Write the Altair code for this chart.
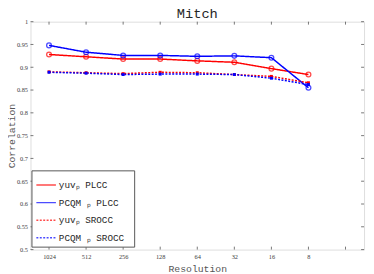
import altair as alt
import pandas as pd

resolutions = ["1024", "512", "256", "128", "64", "32", "16", "8"]
yuv_plcc = [0.928, 0.923, 0.918, 0.918, 0.914, 0.911, 0.897, 0.884]
pcqm_plcc = [0.948, 0.933, 0.926, 0.926, 0.924, 0.925, 0.921, 0.855]
yuv_srocc = [0.890, 0.888, 0.886, 0.889, 0.888, 0.884, 0.880, 0.866]
pcqm_srocc = [0.889, 0.887, 0.884, 0.885, 0.885, 0.884, 0.876, 0.862]

series_names = ["yuvₚ  PLCC", "PCQM ₚ  PLCC", "yuvₚ  SROCC", "PCQM ₚ  SROCC"]
series_values = [yuv_plcc, pcqm_plcc, yuv_srocc, pcqm_srocc]
series_kind = ["PLCC", "PLCC", "SROCC", "SROCC"]
colors = ["#ff0000", "#0000ff", "#ff0000", "#0000ff"]
dashes = [[1, 0], [1, 0], [2, 1.5], [2, 1.5]]

x_ticks = [1, 2, 3, 4, 5, 6, 7, 8, 9]
y_ticks = [0.5, 0.55, 0.6, 0.65, 0.7, 0.75, 0.8, 0.85, 0.9, 0.95, 1.0]

rows = []
for s, (name, vals, kind) in enumerate(zip(series_names, series_values, series_kind)):
    for i, v in enumerate(vals):
        rows.append({"pos": i + 1, "res": resolutions[i], "series": name,
                     "kind": kind, "value": v, "order": s})
df = pd.DataFrame(rows)
xt = pd.DataFrame({"pos": x_ticks})
yt = pd.DataFrame({"value": y_ticks})

label_js = "[" + ",".join("'" + r + "'" for r in resolutions) + "][datum.value-1] || ''"

xscale = alt.Scale(domain=[0.5, 9.5], nice=False, zero=False)
yscale = alt.Scale(domain=[0.5, 1.0], nice=False, zero=False)

xaxis = alt.Axis(values=x_ticks, labelExpr=label_js, ticks=False, domain=False, grid=False,
                 title="Resolution", titleFont="Liberation Mono", titleFontSize=10,
                 titleFontWeight="normal", titleColor="#555555", titlePadding=4,
                 labelFont="Liberation Serif", labelFontSize=6.5, labelColor="#404040",
                 labelPadding=4)
yaxis = alt.Axis(values=y_ticks, format=".2~f", ticks=False, domain=False, grid=False,
                 title="Correlation", titleFont="Liberation Mono", titleFontSize=10,
                 titleFontWeight="normal", titleColor="#555555", titlePadding=0,
                 labelFont="Liberation Serif", labelFontSize=6.5, labelColor="#404040",
                 labelPadding=3)

legend = alt.Legend(title=None, orient="none", legendX=1, legendY=152,
                    symbolType="stroke", symbolSize=400, symbolStrokeWidth=1.5,
                    labelFont="Liberation Mono", labelFontSize=9.5, labelColor="#262626",
                    labelOffset=2, rowPadding=2, padding=4,
                    fillColor="white", strokeColor="#555555")

color_scale = alt.Scale(domain=series_names, range=colors)
dash_scale = alt.Scale(domain=series_names, range=dashes)

base = alt.Chart(df)
lines = base.mark_line(strokeWidth=1.5).encode(
    x=alt.X("pos:Q", scale=xscale, axis=xaxis),
    y=alt.Y("value:Q", scale=yscale, axis=yaxis),
    color=alt.Color("series:N", scale=color_scale, legend=legend),
    strokeDash=alt.StrokeDash("series:N", scale=dash_scale, legend=legend),
    order=alt.Order("pos:Q"),
)
circles = base.transform_filter(alt.datum.kind == "PLCC").mark_point(
    shape="circle", filled=False, size=24, strokeWidth=1.3).encode(
    x=alt.X("pos:Q", scale=xscale, axis=xaxis),
    y=alt.Y("value:Q", scale=yscale, axis=yaxis),
    color=alt.Color("series:N", scale=color_scale, legend=legend),
)
squares = base.transform_filter(alt.datum.kind == "SROCC").mark_point(
    shape="square", filled=True, size=9, opacity=1).encode(
    x=alt.X("pos:Q", scale=xscale, axis=xaxis),
    y=alt.Y("value:Q", scale=yscale, axis=yaxis),
    color=alt.Color("series:N", scale=color_scale, legend=legend),
)

tick_color = "#555555"
xb = alt.Chart(xt).mark_rule(color=tick_color, strokeWidth=0.8).encode(
    x=alt.X("pos:Q", scale=xscale, axis=xaxis), y=alt.value(233), y2=alt.value(230))
xtop = alt.Chart(xt).mark_rule(color=tick_color, strokeWidth=0.8).encode(
    x=alt.X("pos:Q", scale=xscale, axis=xaxis), y=alt.value(0), y2=alt.value(3))
yl = alt.Chart(yt).mark_rule(color=tick_color, strokeWidth=0.8).encode(
    y=alt.Y("value:Q", scale=yscale, axis=yaxis), x=alt.value(0), x2=alt.value(3))
yr = alt.Chart(yt).mark_rule(color=tick_color, strokeWidth=0.8).encode(
    y=alt.Y("value:Q", scale=yscale, axis=yaxis), x=alt.value(341), x2=alt.value(338))

chart = alt.layer(lines, xb, xtop, yl, yr, circles, squares).properties(
    width=341, height=233,
    title=alt.TitleParams("Mitch", font="Liberation Mono", fontSize=14,
                          fontWeight="normal", color="#262626", offset=0, dy=2),
    autosize=alt.AutoSizeParams(type="none"),
    padding={"left": 23, "top": 11, "right": 2, "bottom": 23},
).configure_view(stroke="#555555", strokeWidth=0.8).configure(background="white")

chart.save("out.html", embed_options={"renderer": "svg", "actions": False})
